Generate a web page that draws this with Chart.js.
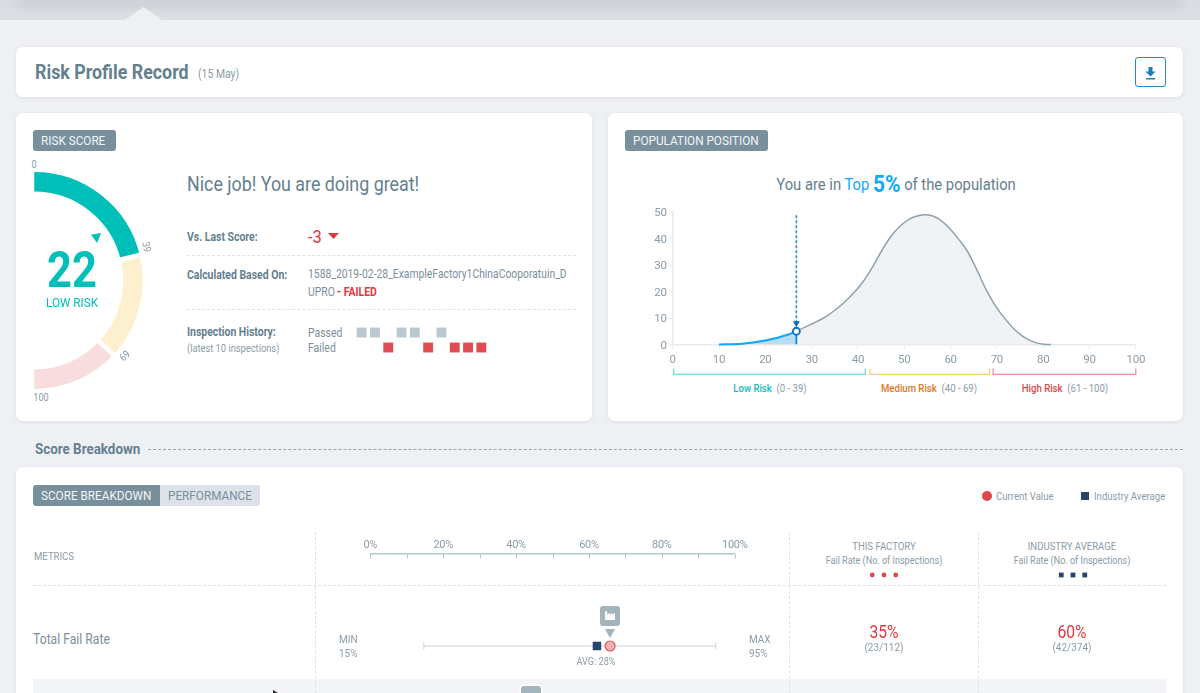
<!DOCTYPE html>
<html>
<head>
<meta charset="utf-8">
<title>Risk Profile Record</title>
<script src="https://cdn.jsdelivr.net/npm/chart.js@4"></script>
<style>
html, body { margin: 0; padding: 0; }
body { width: 1200px; height: 693px; position: relative; overflow: hidden; background: #eef0f4; font-family: Roboto, sans-serif; }
.topband { position: absolute; left: 0; top: 0; width: 1200px; height: 20px; overflow: hidden; background: linear-gradient(#d8dbe0, #dcdfe4); }
.topinner { position: absolute; left: 18px; right: 18px; top: -4px; height: 13px; background: #cfd2d8; filter: blur(3px); }
.notch { position: absolute; left: 125px; top: 7px; width: 37px; height: 13px; background: #eef0f4; clip-path: polygon(0 100%, 50% 0, 100% 100%); }
.card { position: absolute; background: #fff; border-radius: 7px; box-shadow: 0 1px 4px rgba(120,130,145,.14); }
.badge { position: absolute; background: #78909c; height: 21px; border-radius: 3px; }
.dash { position: absolute; height: 0; border-top: 1px dashed #dfe3e7; }
.vdash { position: absolute; width: 0; border-left: 1px dashed #dfe3e7; }
.t { position: absolute; white-space: nowrap; line-height: 1; }
canvas { position: absolute; }
</style>
</head>
<body>
<div class="topband"><div class="topinner"></div></div>
<div class="notch"></div>

<div class="card" style="left:16px;top:47px;width:1167px;height:50px"></div>
<div style="position:absolute;left:1135px;top:57px;width:29px;height:28px;border:1.5px solid #2d86c0;border-radius:3px">
  <svg width="29" height="28" viewBox="0 0 29 28" style="position:absolute;left:0;top:0">
    <path d="M12.5 9h4v4.5h3l-5 5-5-5h3z M10 20h9v1.6h-9z" fill="#1f7cbb"/>
  </svg>
</div>

<div class="card" style="left:16px;top:113px;width:576px;height:308px"></div>
<div class="card" style="left:608px;top:113px;width:575px;height:308px"></div>
<div class="card" style="left:16px;top:467px;width:1167px;height:240px"></div>

<div class="badge" style="left:33px;top:130px;width:83px"></div>
<div class="badge" style="left:625px;top:130px;width:143px"></div>

<div class="dash" style="left:187px;top:255px;width:389px"></div>
<div class="dash" style="left:187px;top:309px;width:389px"></div>
<div style="position:absolute;left:91px;top:233px;width:10px;height:10px;background:#00bfb8;clip-path:polygon(0 18%, 100% 0, 62% 100%)"></div>
<div style="position:absolute;left:328px;top:233px;width:11px;height:6px;background:#e0393f;clip-path:polygon(0 0, 100% 0, 50% 100%)"></div>

<div class="dash" style="left:148px;top:449px;width:1035px;border-top-color:#9aa7b0"></div>

<div style="position:absolute;left:33px;top:485px;width:127px;height:21px;background:#78909c;border-radius:3px 0 0 3px"></div>
<div style="position:absolute;left:160px;top:485px;width:100px;height:21px;background:#dde2e8;border-radius:0 3px 3px 0"></div>

<div style="position:absolute;left:33px;top:679px;width:1133px;height:14px;background:#f3f4f7"></div>
<div class="dash" style="left:33px;top:585px;width:1133px"></div>
<div class="vdash" style="left:315px;top:532px;height:161px"></div>
<div class="vdash" style="left:789px;top:532px;height:161px"></div>
<div class="vdash" style="left:978px;top:532px;height:161px"></div>

<div style="position:absolute;left:600px;top:606px;width:20px;height:20px;background:#a4b4bd;border-radius:3px">
  <svg width="20" height="20" viewBox="0 0 20 20" style="position:absolute;left:0;top:0">
    <path d="M5 5.5h2.2v3.2l2.6-2v2l2.6-2v2l2.6-2v7.3H5z" fill="#fff"/>
  </svg>
</div>
<div style="position:absolute;left:605px;top:629px;width:10px;height:9px;background:#a4b4bd;clip-path:polygon(0 0, 100% 0, 50% 100%)"></div>
<div style="position:absolute;left:521px;top:686px;width:20px;height:20px;background:#a4b4bd;border-radius:3px;box-shadow:0 0 0 1.5px #fff"></div>
<div style="position:absolute;left:273px;top:690px;width:5px;height:3px;background:#1d2f44;clip-path:polygon(0 0, 100% 100%, 0 100%)"></div>

<canvas id="gaugeChart" width="109" height="217" style="left:34px;top:172px"></canvas>
<canvas id="historyChart" width="133" height="30" style="left:355px;top:325px"></canvas>
<canvas id="populationChart" width="510" height="175" style="left:640px;top:200px"></canvas>
<canvas id="breakdownChart" width="450" height="163" style="left:340px;top:530px"></canvas>
<canvas id="factoryDots" width="94" height="16" style="left:836.5px;top:567px"></canvas>
<canvas id="industryDots" width="94" height="16" style="left:1026px;top:567px"></canvas>

<script>
// gauge
const gaugeBands = ["Low", "Medium", "High"];
const gaugeSizes = [42.5, 31.5, 26];
const gaugeColors = ["#00bfb8", "#fdf0cf", "#f9dcdd"];

// inspection history, oldest first
const inspectionIndex = [0, 1, 2, 3, 4, 5, 6, 7, 8, 9];
const inspectionResults = ["P", "P", "F", "P", "P", "F", "P", "F", "F", "F"];

// population curve
const curveX = [10, 15, 20, 25, 26.7, 29.6, 32.5, 35.3, 38.2, 41.1, 43.2, 45, 46.8, 49, 51.1, 53, 54.5, 56, 57.6, 59.8, 61.9, 63.7, 65.5, 67.7, 69.8, 72, 74.1, 76.3, 78.4, 80.2, 81.7];
const curveY = [0, 0.3, 1.5, 3.8, 5, 7.4, 9.9, 13.3, 17.8, 23.7, 29.4, 35, 40, 44.5, 47.3, 48.6, 49, 48.6, 47.2, 43.8, 39.4, 35, 28.8, 20.6, 14.3, 9.2, 5.2, 2.3, 0.7, 0.1, 0];
const yourScore = 26.7;
const yourHeight = 5;
const arrowHeight = 8;
const dashTop = 49.5;
const xTicksPop = [0, 10, 20, 30, 40, 50, 60, 70, 80, 90, 100];

// risk bands under the population axis
const bandStart = [0.2, 42.6, 69.2];
const bandEnd = [41.6, 68.4, 100];
const bandColors = ["#7fd9d4", "#fbce7e", "#ef9497"];

// score breakdown
const rangeMin = [14.7];
const rangeMax = [94.8];
const industryMark = [62.2];
const currentMark = [65.8];
const legendDots = [1, 2, 3];

const condensed = 0.87;
const slate = "#64808f";
const muted = "#8b9ca7";
const red = "#e0393f";
const teal = "#00bfb8";

function addText(x, y, text, opts) {
    const o = opts || {};
    const el = document.createElement("span");
    el.className = "t";
    el.textContent = text;
    el.style.left = x + "px";
    el.style.top = y + "px";
    el.style.fontSize = (o.size || 12) + "px";
    el.style.color = o.color || slate;
    el.style.fontWeight = o.weight || 400;
    const align = o.align || "left";
    const shift = align === "center" ? "-50%" : align === "right" ? "-100%" : "0";
    el.style.transformOrigin = (align === "center" ? "50%" : align === "right" ? "100%" : "0") + " 50%";
    el.style.transform = "translate(" + shift + ",-50%) " + (o.rotate ? "rotate(" + o.rotate + "deg) " : "") + "scaleX(" + (o.stretch || condensed) + ")";
    document.body.appendChild(el);
    return el;
}

addText(35, 72, "Risk Profile Record", { size: 20.5, weight: 700 });
addText(198, 73.5, "(15 May)", { size: 12, color: muted });

addText(41, 140.5, "RISK SCORE", { size: 13.5, color: "#f2f5f7" });
addText(633, 140.5, "POPULATION POSITION", { size: 13.5, color: "#f2f5f7" });

addText(34, 165, "0", { size: 10.5, color: muted, align: "center" });
addText(146, 247, "39", { size: 10.5, color: muted, align: "center", rotate: 76 });
addText(124, 355, "69", { size: 10.5, color: muted, align: "center", rotate: 134 });
addText(41, 398, "100", { size: 10.5, color: muted, align: "center" });
addText(71.5, 269.5, "22", { size: 50, color: teal, weight: 700, align: "center" });
addText(71.5, 303, "LOW RISK", { size: 13.5, color: teal, align: "center" });

addText(187, 183.5, "Nice job! You are doing great!", { size: 20.5 });
addText(187, 236.5, "Vs. Last Score:", { size: 12, weight: 700 });
addText(308, 236, "-3", { size: 19, color: red });
addText(187, 274.5, "Calculated Based On:", { size: 12, weight: 700 });
addText(308, 274.5, "1588_2019-02-28_ExampleFactory1ChinaCooporatuin_D", { size: 11.9, color: "#7c8f9b" });
addText(308, 291.5, "UPRO", { size: 12, color: "#7c8f9b" });
addText(337, 291.5, "- FAILED", { size: 12, color: red, weight: 700 });
addText(187, 332, "Inspection History:", { size: 12, weight: 700 });
addText(187, 348.5, "(latest 10 inspections)", { size: 10.7, color: muted });
addText(308, 332.5, "Passed", { size: 12, color: "#7c8f9b" });
addText(308, 347.5, "Failed", { size: 12, color: "#7c8f9b" });

const popTitle = addText(895.5, 183.5, "", { size: 17, align: "center" });
popTitle.innerHTML = 'You are in <span style="color:#12a9f5">Top</span> <span style="color:#12a9f5;font-weight:700;font-size:24px;vertical-align:-2px">5%</span> of the population';

function riskLabel(x, name, range, color) {
    const el = addText(x, 387.5, "", { size: 11, color: muted, align: "center" });
    el.innerHTML = '<span style="color:' + color + ';font-weight:500">' + name + '</span> &nbsp;' + range;
}
riskLabel(769.5, "Low Risk", "(0 - 39)", "#12bdb6");
riskLabel(929, "Medium Risk", "(40 - 69)", "#e2761b");
riskLabel(1064.5, "High Risk", "(61 - 100)", "#e0474c");

addText(35, 449.5, "Score Breakdown", { size: 15.4, weight: 700 });
addText(41, 495.5, "SCORE BREAKDOWN", { size: 13.5, color: "#f2f5f7" });
addText(168, 495.5, "PERFORMANCE", { size: 13.5, color: "#78909c" });
addText(996, 496, "Current Value", { size: 11, color: muted });
addText(1094, 496, "Industry Average", { size: 11, color: muted });
addText(34, 556, "METRICS", { size: 11, color: muted });

addText(884, 546, "THIS FACTORY", { size: 11, color: muted, align: "center" });
addText(884, 560.5, "Fail Rate (No. of Inspections)", { size: 10.4, color: muted, align: "center" });
addText(1072, 546, "INDUSTRY AVERAGE", { size: 11, color: muted, align: "center" });
addText(1072, 560.5, "Fail Rate (No. of Inspections)", { size: 10.4, color: muted, align: "center" });

addText(33, 639, "Total Fail Rate", { size: 14, color: "#7c8f9b" });
addText(339, 640, "MIN", { size: 11.5, color: muted });
addText(339, 653.5, "15%", { size: 11.5, color: muted });
addText(749, 640, "MAX", { size: 11.5, color: muted });
addText(749, 653.5, "95%", { size: 11.5, color: muted });
addText(596, 661.5, "AVG: 28%", { size: 10.5, color: muted, align: "center" });
addText(884, 631.5, "35%", { size: 18, color: red, align: "center" });
addText(884, 648, "(23/112)", { size: 11.5, color: muted, align: "center" });
addText(1072, 631.5, "60%", { size: 18, color: red, align: "center" });
addText(1072, 648, "(42/374)", { size: 11.5, color: muted, align: "center" });

Chart.defaults.animation = false;
Chart.defaults.responsive = false;
Chart.defaults.font.family = "Roboto";
Chart.defaults.plugins.legend.display = false;
Chart.defaults.plugins.tooltip.enabled = false;

// Roboto Condensed is not installed, so tighten the canvas labels
const tightLabels = {
    id: "tightLabels",
    beforeDraw(chart) { chart.ctx.letterSpacing = "-0.3px"; }
};

// y labels sit a little lower than canvas centring puts them
const nudgeYLabels = {
    id: "nudgeYLabels",
    afterLayout(chart) {
        chart.scales.y.getLabelItems().forEach((item) => { item.options.translation[1] += 1.3; });
    }
};

// white gaps between the gauge bands
const gaugeGaps = {
    id: "gaugeGaps",
    afterDatasetsDraw(chart) {
        const ctx = chart.ctx;
        const arcs = chart.getDatasetMeta(0).data;
        ctx.save();
        ctx.strokeStyle = "#fff";
        ctx.lineWidth = 5;
        arcs.slice(0, -1).forEach((arc) => {
            const a = arc.endAngle;
            ctx.beginPath();
            ctx.moveTo(arc.x + Math.cos(a) * (arc.innerRadius - 2), arc.y + Math.sin(a) * (arc.innerRadius - 2));
            ctx.lineTo(arc.x + Math.cos(a) * (arc.outerRadius + 2), arc.y + Math.sin(a) * (arc.outerRadius + 2));
            ctx.stroke();
        });
        ctx.restore();
    }
};

new Chart(document.getElementById("gaugeChart"), {
    type: "doughnut",
    data: {
        labels: gaugeBands,
        datasets: [{ data: gaugeSizes, backgroundColor: gaugeColors, borderWidth: 0 }]
    },
    options: {
        rotation: 0,
        circumference: 180,
        cutout: "82%",
        layout: { padding: 0 }
    },
    plugins: [gaugeGaps]
});

const passedPoints = inspectionIndex.filter((i) => inspectionResults[i] === "P").map((i) => ({ x: i, y: 1 }));
const failedPoints = inspectionIndex.filter((i) => inspectionResults[i] === "F").map((i) => ({ x: i, y: 0 }));

new Chart(document.getElementById("historyChart"), {
    type: "scatter",
    data: {
        datasets: [
            { data: passedPoints, pointStyle: "rect", pointRadius: 7, backgroundColor: "#bcc8cf", borderWidth: 0 },
            { data: failedPoints, pointStyle: "rect", pointRadius: 7, backgroundColor: "#df4c52", borderWidth: 0 }
        ]
    },
    options: {
        layout: { padding: 0, autoPadding: false },
        scales: {
            x: { display: false, min: -0.5, max: 9.5, ticks: { count: 2 } },
            y: { display: false, min: -0.5, max: 1.5, ticks: { count: 2 } }
        }
    }
});

const curvePoints = curveX.map((x, i) => ({ x: x, y: curveY[i] }));

// brackets below the x axis, placed with the x scale
const riskBrackets = {
    id: "riskBrackets",
    afterDraw(chart) {
        const ctx = chart.ctx;
        const xs = chart.scales.x;
        ctx.save();
        ctx.lineWidth = 1.3;
        bandStart.forEach((from, i) => {
            const a = xs.getPixelForValue(from);
            const b = xs.getPixelForValue(bandEnd[i]);
            ctx.strokeStyle = bandColors[i];
            ctx.beginPath();
            ctx.moveTo(a, 168.5);
            ctx.lineTo(a, 174.5);
            ctx.lineTo(b, 174.5);
            ctx.lineTo(b, 168.5);
            ctx.stroke();
        });
        ctx.restore();
    }
};

new Chart(document.getElementById("populationChart"), {
    type: "line",
    data: {
        datasets: [
            { data: [{ x: yourScore, y: yourHeight }], showLine: false, pointRadius: 3.5, borderWidth: 1.8, pointBackgroundColor: "#fff", pointBorderColor: "#0a6fb5", order: 0 },
            { data: [{ x: yourScore, y: arrowHeight }], showLine: false, pointStyle: "triangle", rotation: 180, pointRadius: 4, pointBackgroundColor: "#0a6fb5", pointBorderColor: "#0a6fb5", pointBorderWidth: 0, order: 1 },
            { data: [{ x: yourScore, y: arrowHeight }, { x: yourScore, y: dashTop }], borderColor: "#1f8fd6", borderWidth: 1.6, borderDash: [3, 2], pointRadius: 0, order: 2 },
            { data: [{ x: yourScore, y: 0 }, { x: yourScore, y: yourHeight }], borderColor: "#0b85d6", borderWidth: 1.8, pointRadius: 0, order: 3 },
            { data: curvePoints.filter((p) => p.x <= yourScore), borderColor: "#0ca7f8", borderWidth: 2, backgroundColor: "#b5dff7", fill: "origin", cubicInterpolationMode: "monotone", pointRadius: 0, clip: false, order: 4 },
            { data: curvePoints.filter((p) => p.x >= yourScore), borderColor: "#8fa2ad", borderWidth: 1.5, backgroundColor: "#f0f2f4", fill: "origin", cubicInterpolationMode: "monotone", pointRadius: 0, clip: false, order: 5 }
        ]
    },
    options: {
        layout: { padding: { top: 12, right: 13.3, left: 0, bottom: 0 }, autoPadding: false },
        scales: {
            x: {
                type: "linear", min: 0, max: 100,
                afterBuildTicks: (s) => { s.ticks = xTicksPop.map((v) => ({ value: v })); },
                afterFit: (s) => { s.height = 30.5; },
                border: { color: "#e7eaee", width: 1.5 },
                grid: { drawOnChartArea: false, color: "#e4e7eb", tickLength: 4 },
                ticks: { color: muted, font: { size: 11.5 }, padding: 4.5, maxRotation: 0, autoSkip: false }
            },
            y: {
                min: 0, max: 50,
                afterFit: (s) => { s.width = 32.7; },
                border: { color: "#e7eaee", width: 1.5 },
                grid: { drawOnChartArea: false, color: "#e4e7eb", tickLength: 3 },
                ticks: { stepSize: 10, color: muted, font: { size: 11.5 }, padding: 3 }
            }
        }
    },
    plugins: [tightLabels, nudgeYLabels, riskBrackets]
});

// ticks hang below the top axis, which the scale can't do by itself
const hangingTicks = {
    id: "hangingTicks",
    afterDraw(chart) {
        const ctx = chart.ctx;
        const xs = chart.scales.x;
        ctx.save();
        ctx.strokeStyle = "#b8c5cd";
        ctx.lineWidth = 1;
        xs.ticks.forEach((t) => {
            const px = Math.round(xs.getPixelForValue(t.value)) + 0.5;
            ctx.beginPath();
            ctx.moveTo(px, chart.chartArea.top);
            ctx.lineTo(px, chart.chartArea.top + 4.5);
            ctx.stroke();
        });
        ctx.restore();
    }
};

new Chart(document.getElementById("breakdownChart"), {
    type: "line",
    data: {
        datasets: [
            { data: [{ x: currentMark[0], y: 1 }], showLine: false, pointRadius: 5, pointBackgroundColor: "#f3b0b1", pointBorderColor: "#e5565b", pointBorderWidth: 1.2, order: 0 },
            { data: [{ x: industryMark[0], y: 1 }], showLine: false, pointStyle: "rect", pointRadius: 6, pointBackgroundColor: "#27456b", pointBorderWidth: 0, order: 1 },
            { data: [{ x: rangeMin[0], y: 1 }, { x: rangeMax[0], y: 1 }], borderColor: "#dbe0e5", borderWidth: 1.5, pointStyle: "line", rotation: 90, pointRadius: 3.5, pointBorderColor: "#c9d1d7", pointBorderWidth: 1, order: 2 }
        ]
    },
    options: {
        layout: { padding: { left: 30.3, right: 55.3, top: 0, bottom: 0 }, autoPadding: false },
        scales: {
            x: {
                type: "linear", position: "top", min: 0, max: 100,
                afterFit: (s) => { s.height = 24; },
                border: { color: "#b8c5cd", width: 1.5 },
                grid: { display: true, drawOnChartArea: false, drawTicks: false },
                ticks: {
                    stepSize: 10, autoSkip: false, maxRotation: 0, padding: 2.4,
                    color: muted, font: { size: 11 },
                    callback: (v) => (v % 20 === 0 ? v + "%" : "")
                }
            },
            // 0 is the bottom of the canvas; the row sits at y=1
            y: { display: false, min: 0, max: 2.957, ticks: { count: 2 } }
        }
    },
    plugins: [tightLabels, hangingTicks]
});

function dotRow(id, style, color, radius) {
    new Chart(document.getElementById(id), {
        type: "scatter",
        data: { datasets: [{ data: legendDots.map((d) => ({ x: d, y: 1 })), pointStyle: style, pointRadius: radius, backgroundColor: color, borderWidth: 0 }] },
        options: {
            layout: { padding: 0, autoPadding: false },
            scales: {
                x: { display: false, min: -2, max: 6, ticks: { count: 2 } },
                y: { display: false, min: 0, max: 2, ticks: { count: 2 } }
            }
        }
    });
}
dotRow("factoryDots", "circle", "#e0474c", 2.4);
dotRow("industryDots", "rect", "#27456b", 3.4);
</script>

<div style="position:absolute;left:982px;top:491px;width:10px;height:10px;border-radius:50%;background:#e0474c"></div>
<div style="position:absolute;left:1081px;top:492px;width:8px;height:8px;background:#27456b"></div>
</body>
</html>
